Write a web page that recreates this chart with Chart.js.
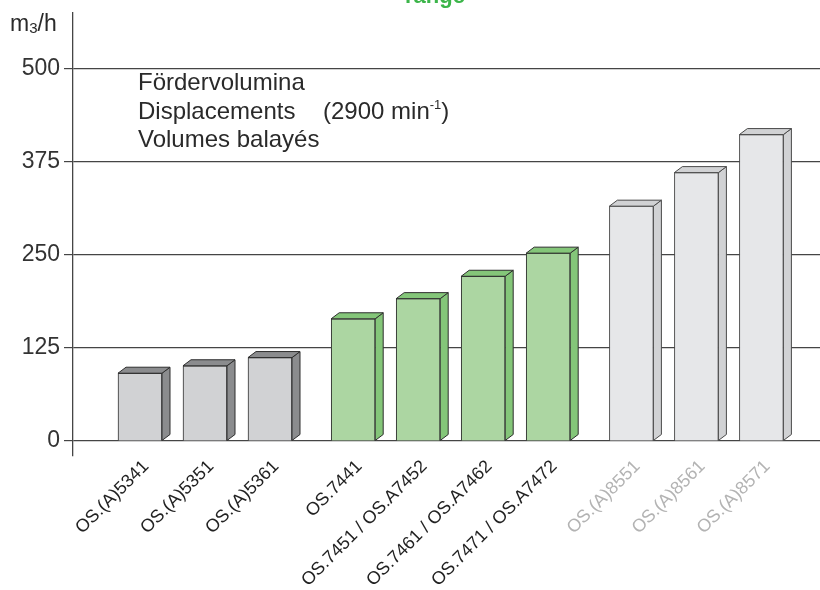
<!DOCTYPE html>
<html>
<head>
<meta charset="utf-8">
<script src="https://cdn.jsdelivr.net/npm/chart.js@4.4.1/dist/chart.umd.min.js"></script>
<style>
  html, body { margin: 0; padding: 0; background: #fff; }
  #wrap { width: 820px; height: 590px; position: relative; }
</style>
</head>
<body>
<div id="wrap"><canvas id="c" width="820" height="590"></canvas></div>
<script>
// ---- data ----
const categories = [
  'OS.(A)5341', 'OS.(A)5351', 'OS.(A)5361',
  'OS.7441', 'OS.7451 / OS.A7452', 'OS.7461 / OS.A7462', 'OS.7471 / OS.A7472',
  'OS.(A)8551', 'OS.(A)8561', 'OS.(A)8571'
];
const displacement = [91, 101, 112, 164, 191, 221, 252, 315, 360, 411];
const groupOf = [0, 0, 0, 1, 1, 1, 1, 2, 2, 2];
const yTicks = [0, 125, 250, 375, 500];
const unitLabel = ['m', '3', '/h'];
const noteLines = ['Fördervolumina', 'Displacements', 'Volumes balayés'];
const speedNote = ['(2900 min', '-1', ')'];
const topTitle = 'range';

// ---- styling ----
const GROUP_GAP = 0.28;
const frontColors = ['#d1d2d4', '#acd6a2', '#e6e7e9'];
const sideColors  = ['#8b8c8e', '#84c679', '#d1d2d4'];
const edgeColors  = ['#2e2e2e', '#2e2e2e', '#4a4a4a'];
const labelColors = ['#222222', '#222222', '#b3b3b3'];
const FONT = "'Liberation Sans', Arial, Helvetica, sans-serif";

const positions = categories.map((c, i) => i + GROUP_GAP * groupOf[i]);

const bars3d = {
  id: 'bars3d',
  afterDatasetsDraw(chart) {
    const ctx = chart.ctx;
    const meta = chart.getDatasetMeta(0);
    const dx = 8, dy = 6;
    meta.data.forEach((bar, i) => {
      const p = bar.getProps(['x', 'y', 'base', 'width'], true);
      const l = p.x - p.width / 2, r = p.x + p.width / 2, t = p.y, b = p.base;
      const g = groupOf[i];
      ctx.save();
      ctx.lineWidth = 1;
      ctx.strokeStyle = edgeColors[g];
      ctx.lineJoin = 'round';
      ctx.beginPath();
      ctx.moveTo(r, t); ctx.lineTo(r + dx, t - dy); ctx.lineTo(r + dx, b - dy); ctx.lineTo(r, b);
      ctx.closePath();
      ctx.fillStyle = sideColors[g]; ctx.fill(); ctx.stroke();
      ctx.beginPath();
      ctx.moveTo(l, t); ctx.lineTo(l + dx, t - dy); ctx.lineTo(r + dx, t - dy); ctx.lineTo(r, t);
      ctx.closePath();
      ctx.fillStyle = sideColors[g]; ctx.fill(); ctx.stroke();
      ctx.restore();
    });
  }
};

const texts = {
  id: 'texts',
  afterDraw(chart) {
    const ctx = chart.ctx;
    ctx.save();
    ctx.fillStyle = '#2a2a2a';
    ctx.textBaseline = 'middle';
    ctx.textAlign = 'left';
    ctx.font = '23px ' + FONT;
    let x = 10;
    ctx.fillText(unitLabel[0], x, 25); x += ctx.measureText(unitLabel[0]).width;
    ctx.font = '15px ' + FONT;
    ctx.fillText(unitLabel[1], x, 29); x += ctx.measureText(unitLabel[1]).width;
    ctx.font = '23px ' + FONT;
    ctx.fillText(unitLabel[2], x, 25);
    ctx.font = '24px ' + FONT;
    const ys = [83, 112, 140];
    noteLines.forEach((s, i) => ctx.fillText(s, 138, ys[i]));
    x = 323;
    ctx.fillText(speedNote[0], x, ys[1]); x += ctx.measureText(speedNote[0]).width;
    ctx.font = '13px ' + FONT;
    ctx.fillText(speedNote[1], x, ys[1] - 7); x += ctx.measureText(speedNote[1]).width;
    ctx.font = '24px ' + FONT;
    ctx.fillText(speedNote[2], x, ys[1]);
    ctx.fillStyle = '#3cb54a';
    ctx.font = 'bold 22px ' + FONT;
    ctx.textAlign = 'center';
    ctx.textBaseline = 'alphabetic';
    ctx.fillText(topTitle, 435, 3);
    ctx.restore();
  }
};

const X_STEP_PX = 65, FIRST_CENTER_PX = 140, LEFT_PX = 73, RIGHT_PX = 820;
const xMin = -(FIRST_CENTER_PX - LEFT_PX) / X_STEP_PX;
const xMax = xMin + (RIGHT_PX - LEFT_PX) / X_STEP_PX;

new Chart(document.getElementById('c'), {
  type: 'bar',
  data: {
    datasets: [{
      data: positions.map((p, i) => ({ x: p, y: displacement[i] })),
      backgroundColor: groupOf.map(g => frontColors[g]),
      borderColor: groupOf.map(g => edgeColors[g]),
      borderWidth: 1,
      barThickness: 44
    }]
  },
  options: {
    responsive: false,
    animation: false,
    layout: { padding: { top: 13, left: 0, right: 0, bottom: 0 } },
    plugins: { legend: { display: false }, tooltip: { enabled: false }, title: { display: false } },
    scales: {
      x: {
        type: 'linear',
        offset: false,
        min: xMin, max: xMax,
        afterBuildTicks: (ax) => { ax.ticks = positions.map(v => ({ value: v })); },
        afterFit: (ax) => { ax.height = 134; ax.paddingLeft = 0; ax.paddingRight = 0; },
        grid: { display: false },
        border: { display: false },
        ticks: {
          autoSkip: false,
          minRotation: 45, maxRotation: 45,
          padding: -8,
          labelOffset: 6,
          font: { family: FONT, size: 18 },
          color: (c) => labelColors[groupOf[c.index]],
          callback: (v, idx) => categories[idx]
        }
      },
      y: {
        min: -20, max: 574,
        afterBuildTicks: (ax) => { ax.ticks = yTicks.map(v => ({ value: v })); },
        afterFit: (ax) => { ax.width = 73; ax.paddingTop = 0; ax.paddingBottom = 0; },
        grid: { color: '#454545', lineWidth: 1.2, tickLength: 9, drawTicks: true },
        border: { display: true, color: '#454545', width: 1.3 },
        ticks: {
          padding: 4,
          font: { family: FONT, size: 23 },
          color: '#333333'
        }
      }
    }
  },
  plugins: [bars3d, texts]
});
</script>
</body>
</html>
